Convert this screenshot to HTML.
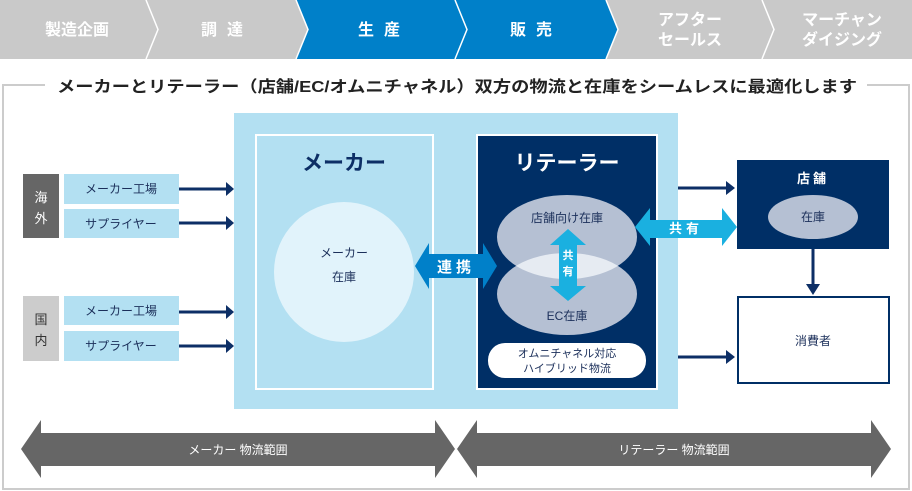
<!DOCTYPE html>
<html><head><meta charset="utf-8"><style>
html,body{margin:0;padding:0;background:#fff;}
svg{display:block;font-family:"Liberation Sans","Noto Sans CJK JP",sans-serif;}
</style></head><body>
<svg width="912" height="491" viewBox="0 0 912 491" xmlns="http://www.w3.org/2000/svg">
<rect x="0" y="0" width="912" height="59" fill="#c9c9c9"/>
<polygon points="296,0 455,0 467,29.5 455,59 296,59 308,29.5" fill="#0080c9"/>
<polygon points="455,0 606,0 618,29.5 606,59 455,59 467,29.5" fill="#0080c9"/>
<g fill="none" stroke="#fff" stroke-width="1.5">
<polyline points="146,0 158,29.5 146,59"/>
<polyline points="296,0 308,29.5 296,59"/>
<polyline points="455,0 467,29.5 455,59"/>
<polyline points="606,0 618,29.5 606,59"/>
<polyline points="762,0 774,29.5 762,59"/>
</g>
<g fill="#fff" font-size="16" font-weight="bold" text-anchor="middle">
<text x="77" y="35">製造企画</text>
<text x="227" y="35" letter-spacing="10">調達</text>
<text x="384" y="35" letter-spacing="10">生産</text>
<text x="536" y="35" letter-spacing="10">販売</text>
<text x="690" y="25">アフター</text><text x="690" y="45">セールス</text>
<text x="842" y="25">マーチャン</text><text x="842" y="45">ダイジング</text>
</g>
<path d="M45,85 H3 V489 H909 V85 H867" fill="none" stroke="#cccccc" stroke-width="2"/>
<text x="57" y="92" font-size="16" font-weight="bold" fill="#222" textLength="800" lengthAdjust="spacingAndGlyphs">メーカーとリテーラー（店舗/EC/オムニチャネル）双方の物流と在庫をシームレスに最適化します</text>
<rect x="23" y="174" width="36" height="64" fill="#666"/>
<text x="41" y="202" text-anchor="middle" fill="#fff" font-size="13">海</text>
<text x="41" y="223" text-anchor="middle" fill="#fff" font-size="13">外</text>
<rect x="23" y="296" width="36" height="65" fill="#cccccc"/>
<text x="41" y="324" text-anchor="middle" fill="#333" font-size="13">国</text>
<text x="41" y="345" text-anchor="middle" fill="#333" font-size="13">内</text>
<g fill="#b3e0f2">
<rect x="64" y="174" width="115" height="30"/><rect x="64" y="209" width="115" height="29"/>
<rect x="64" y="296" width="115" height="29"/><rect x="64" y="331" width="115" height="30"/>
</g>
<g fill="#1b2f5a" font-size="12" text-anchor="middle">
<text x="121" y="193">メーカー工場</text><text x="121" y="228">サプライヤー</text>
<text x="121" y="315">メーカー工場</text><text x="121" y="350">サプライヤー</text>
</g>
<g stroke="#0d2f66" stroke-width="3"><line x1="179" y1="189" x2="228" y2="189"/><line x1="179" y1="223" x2="228" y2="223"/><line x1="179" y1="312" x2="228" y2="312"/><line x1="179" y1="346" x2="228" y2="346"/>
<line x1="678" y1="188" x2="728" y2="188"/><line x1="678" y1="357" x2="728" y2="357"/><line x1="813" y1="249" x2="813" y2="286"/></g>
<g fill="#0d2f66">
<polygon points="226,182 234,189 226,196"/><polygon points="226,216 234,223 226,230"/>
<polygon points="226,305 234,312 226,319"/><polygon points="226,339 234,346 226,353"/>
<polygon points="726,181 735,188 726,195"/><polygon points="726,350 735,357 726,364"/>
<polygon points="806,284 820,284 813,295"/>
</g>
<rect x="234" y="113" width="444" height="296" fill="#b3e0f2"/>
<rect x="256" y="135" width="177" height="254" fill="none" stroke="#fff" stroke-width="2"/>
<text x="344" y="170" text-anchor="middle" font-size="21" font-weight="bold" fill="#0d2f66">メーカー</text>
<circle cx="344" cy="272" r="70" fill="#e1f3fb"/>
<text x="344" y="257" text-anchor="middle" font-size="12" fill="#1b2f5a">メーカー</text>
<text x="344" y="281" text-anchor="middle" font-size="12" fill="#1b2f5a">在庫</text>
<rect x="477" y="135" width="180" height="254" fill="#002f66" stroke="#fff" stroke-width="2"/>
<text x="567" y="170" text-anchor="middle" font-size="21" font-weight="bold" fill="#fff">リテーラー</text>
<ellipse cx="567" cy="237" rx="70" ry="42" fill="#b5c0d3"/>
<ellipse cx="567" cy="294" rx="70" ry="41" fill="#b5c0d3"/>
<clipPath id="c"><ellipse cx="567" cy="237" rx="70" ry="42"/></clipPath>
<ellipse cx="567" cy="294" rx="70" ry="41" fill="#e6ebf2" clip-path="url(#c)"/>
<text x="567" y="222" text-anchor="middle" font-size="12" fill="#1b2f5a">店舗向け在庫</text>
<text x="567" y="320" text-anchor="middle" font-size="12" fill="#1b2f5a">EC在庫</text>
<polygon points="568,229 586,245 577,245 577,286 586,286 568,301 550,286 559,286 559,245 550,245" fill="#1ab0e0"/>
<text x="568" y="259" text-anchor="middle" font-size="11" font-weight="bold" fill="#fff">共</text>
<text x="568" y="275" text-anchor="middle" font-size="11" font-weight="bold" fill="#fff">有</text>
<rect x="488" y="343" width="158" height="35" rx="17" fill="#fff"/>
<text x="567" y="357" text-anchor="middle" font-size="11" fill="#1b2f5a">オムニチャネル対応</text>
<text x="567" y="372" text-anchor="middle" font-size="11" fill="#1b2f5a">ハイブリッド物流</text>
<polygon points="415,266 429,243 429,254 483,254 483,243 497,266 483,289 483,278 429,278 429,289" fill="#0080c9"/>
<text x="456" y="272" text-anchor="middle" font-size="15" font-weight="bold" fill="#fff" letter-spacing="4">連携</text>
<polygon points="635,227 650,208 650,220 722,220 722,208 737,227 722,246 722,238 650,238 650,246" fill="#1ab0e0"/>
<text x="686" y="233" text-anchor="middle" font-size="13" font-weight="bold" fill="#fff" letter-spacing="4">共有</text>
<rect x="737" y="160" width="152" height="89" fill="#002f66"/>
<text x="813" y="183" text-anchor="middle" font-size="13" font-weight="bold" fill="#fff" letter-spacing="3">店舗</text>
<ellipse cx="813" cy="217" rx="45" ry="22" fill="#b5c0d3"/>
<text x="813" y="221" text-anchor="middle" font-size="12" fill="#1b2f5a">在庫</text>
<rect x="738" y="297" width="151" height="86" fill="#fff" stroke="#002f66" stroke-width="2"/>
<text x="813" y="345" text-anchor="middle" font-size="12" fill="#1b2f5a">消費者</text>
<polygon points="21,449 41,420 41,433 435,433 435,420 455,449 435,478 435,466 41,466 41,478" fill="#666"/>
<polygon points="457,449 477,420 477,433 871,433 871,420 891,449 871,478 871,466 477,466 477,478" fill="#666"/>
<text x="238" y="454" text-anchor="middle" font-size="12" fill="#fff">メーカー 物流範囲</text>
<text x="674" y="454" text-anchor="middle" font-size="12" fill="#fff">リテーラー 物流範囲</text>
</svg>
</body></html>
